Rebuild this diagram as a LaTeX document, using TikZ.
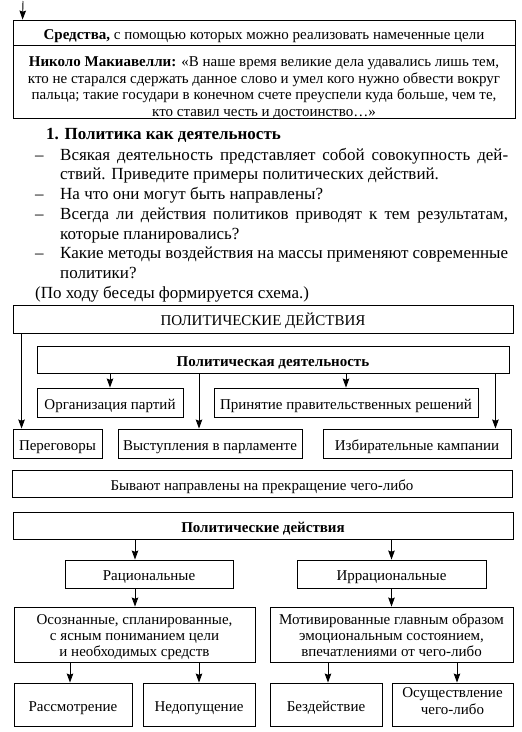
\documentclass[tikz,border=0pt]{standalone}
\usepackage{fontspec}
\setmainfont{Liberation Serif}
\usetikzlibrary{arrows.meta}
\newcommand\qfnt{\fontsize{15}{16.6}\selectfont}
\newcommand\lfnt{\fontsize{17}{19.8}\selectfont}
\newcommand\dfnt{\fontsize{15}{16}\selectfont}
\newcommand\ofnt{\fontsize{15}{17}\selectfont}
\newcommand\shiftbox[2]{\raisebox{-#1}[\height][\depth]{\begin{tabular}{@{}c@{}}#2\end{tabular}}}
\begin{document}
\begin{tikzpicture}[x=1pt,y=-1pt,
  box/.style={draw, line width=0.9pt, inner sep=0pt, align=center, font=\dfnt,
              text height=14pt, text depth=1pt},
  mbox/.style={draw, line width=0.9pt, inner sep=0pt, align=center, font=\dfnt},
  qbox/.style={draw, line width=0.9pt, inner sep=0pt, align=center, font=\qfnt},
  ltxt/.style={anchor=base west, inner sep=0pt, font=\lfnt},
  arr/.style={line width=0.9pt, -{Stealth[length=9pt,width=6.5pt,inset=1.2pt]}}]
\useasboundingbox[fill=white] (0,0) rectangle (522,732);

% ---- top box ----
\node[qbox, minimum width=502pt, minimum height=25pt, text height=14pt, text depth=1pt] (means) at (264,32.5)
  {\textbf{Средства,} с помощью которых можно реализовать намеченные цели};
\node[qbox, minimum width=502pt, minimum height=73pt] (quote) at (264,81.5)
  {\shiftbox{6.5pt}{\textbf{Николо Макиавелли:} «В наше время великие дела удавались лишь тем,\\
   кто не старался сдержать данное слово и умел кого нужно обвести вокруг\\
   пальца; такие государи в конечном счете преуспели куда больше, чем те,\\
   кто ставил честь и достоинство…»}};
\coordinate (topstart) at (23,1);
\coordinate (topin) at ([xshift=10pt]means.north west);
\draw[arr] (topstart) -- (topin);

% ---- list ----
\node[ltxt] (h1) at (46,139.5) {\textbf{1. Политика как деятельность}};
\node[ltxt] (d1) at (35,160) {–};
\node[ltxt] (l1) at (60,160) {\makebox[448pt][s]{Всякая деятельность представляет собой совокупность дей-}};
\node[ltxt] (l1b) at (60,179.75) {ствий. Приведите примеры политических действий.};
\node[ltxt] (d2) at (35,199.5) {–};
\node[ltxt] (l2) at (60,199.5) {На что они могут быть направлены?};
\node[ltxt] (d3) at (35,219.25) {–};
\node[ltxt] (l3) at (60,219.25) {\makebox[448pt][s]{Всегда ли действия политиков приводят к тем результатам,}};
\node[ltxt] (l3b) at (60,239) {которые планировались?};
\node[ltxt] (d4) at (35,258.75) {–};
\node[ltxt] (l4) at (60,258.75) {\makebox[448pt][s]{Какие методы воздействия на массы применяют современные}};
\node[ltxt] (l4b) at (60,278.5) {политики?};
\node[ltxt] (l5) at (35,298.25) {(По ходу беседы формируется схема.)};

% ---- diagram 1 ----
\node[box, minimum width=500pt, minimum height=28pt] (pd) at (263,319) {ПОЛИТИЧЕСКИЕ ДЕЙСТВИЯ};
\node[box, minimum width=472pt, minimum height=27pt] (pdeyat) at (273,359.5) {\textbf{Политическая деятельность}};
\node[box, minimum width=146pt, minimum height=29pt] (org) at (110,402.5) {Организация партий};
\node[box, minimum width=264pt, minimum height=29pt] (prin) at (346,402.5) {Принятие правительственных решений};
\node[box, minimum width=89pt, minimum height=29pt] (pereg) at (57.5,443.5) {Переговоры};
\node[box, minimum width=184pt, minimum height=29pt] (vyst) at (210,443.5) {Выступления в парламенте};
\node[box, minimum width=188pt, minimum height=29pt] (izb) at (417,443.5) {Избирательные кампании};

\coordinate (t-pereg) at ([xshift=9pt]pereg.north west);
\draw[arr] (pd.south -| t-pereg) -- (t-pereg);
\draw[arr] (pdeyat.south -| org.north) -- (org.north);
\coordinate (t-vyst) at ([xshift=-11pt]vyst.north);
\draw[arr] (pdeyat.south -| t-vyst) -- (t-vyst);
\draw[arr] (pdeyat.south -| prin.north) -- (prin.north);
\coordinate (t-izb) at ([xshift=-16pt]izb.north east);
\draw[arr] (pdeyat.south -| t-izb) -- (t-izb);

% ---- diagram 2 ----
\node[box, minimum width=500pt, minimum height=27pt] (byv) at (262,483.5) {Бывают направлены на прекращение чего-либо};
\node[box, minimum width=500pt, minimum height=27pt] (pd2) at (263,525.5) {\textbf{Политические действия}};
\node[box, minimum width=168pt, minimum height=28pt] (rac) at (149,574) {Рациональные};
\node[box, minimum width=189pt, minimum height=28pt] (irr) at (391.5,574) {Иррациональные};
\node[mbox, minimum width=241pt, minimum height=55pt] (osoz) at (134.5,634.5)
  {\shiftbox{3pt}{Осознанные, спланированные,\\ с ясным пониманием цели\\ и необходимых средств}};
\node[mbox, minimum width=243pt, minimum height=55pt] (motiv) at (391.5,634.5)
  {\shiftbox{3pt}{Мотивированные главным образом\\ эмоциональным состоянием,\\ впечатлениями от чего-либо}};
\node[box, minimum width=118pt, minimum height=43pt] (rassm) at (73,704.5) {Рассмотрение};
\node[box, minimum width=112pt, minimum height=43pt] (nedop) at (199,704.5) {Недопущение};
\node[box, minimum width=112pt, minimum height=43pt] (bezd) at (326,704.5) {Бездействие};
\node[mbox, font=\ofnt, minimum width=121pt, minimum height=43pt] (osush) at (452.5,704.5)
  {\shiftbox{-2pt}{Осуществление\\ чего-либо}};

\coordinate (t-rac) at ([xshift=-14pt]rac.north);
\draw[arr] (pd2.south -| t-rac) -- (t-rac);
\draw[arr] (pd2.south -| irr.north) -- (irr.north);
\coordinate (t-osoz) at (osoz.north -| t-rac);
\draw[arr] (rac.south -| t-rac) -- (t-osoz);
\coordinate (t-motiv) at (motiv.north -| irr.north);
\draw[arr] (irr.south) -- (t-motiv);
\coordinate (t-rassm) at ([xshift=-3pt]rassm.north);
\draw[arr] (osoz.south -| t-rassm) -- (t-rassm);
\draw[arr] (osoz.south -| nedop.north) -- (nedop.north);
\coordinate (t-bezd) at ([xshift=2pt]bezd.north);
\draw[arr] (motiv.south -| t-bezd) -- (t-bezd);
\coordinate (t-osush) at ([xshift=4.5pt]osush.north);
\draw[arr] (motiv.south -| t-osush) -- (t-osush);
\end{tikzpicture}
\end{document}
